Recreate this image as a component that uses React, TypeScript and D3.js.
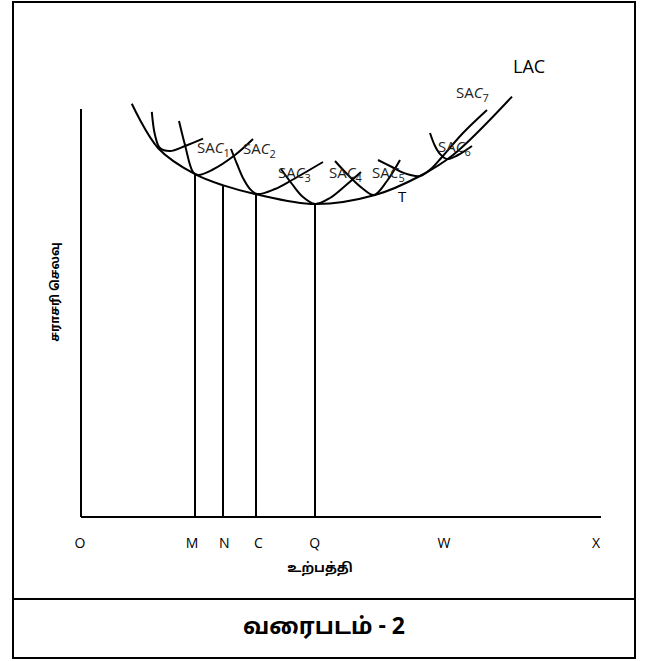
import React from 'react';
import * as d3 from 'd3';

// output (q) on x, cost (c) on y
const lacCurve: [number, number][] = [
  [12.7, 103.3], [19.3, 92.2], [28.5, 85.7], [35.6, 82.9], [43.75, 80.7],
  [58.5, 78.25], [73.5, 80.5], [84.75, 85.25], [93, 90.5], [107.75, 105.1],
];
const sac1: [number, number][] = [[17.7, 101.3], [18.5, 95.5], [19.75, 92.25], [22.25, 91.5], [26, 92.75], [30.5, 94.6]];
const sac2: [number, number][] = [[24.5, 99], [26, 93], [28, 86.25], [29.25, 85.5], [32.75, 86.75], [38.5, 90.5], [43, 94.5]];
const sac3: [number, number][] = [[37.5, 92], [39, 88.25], [40.5, 84.75], [42.25, 82], [44, 80.75], [48.5, 82], [52.75, 84.25], [60.5, 88.75]];
const sac4: [number, number][] = [[50, 87], [52.75, 83.25], [55.5, 80], [58.5, 78.25], [62.25, 79.75], [66, 82.75], [70, 86.25]];
const sac5: [number, number][] = [[63.5, 89], [66.75, 85.5], [70.25, 82.25], [73.25, 80.5], [76.5, 84], [79.75, 89.25]];
const sac7: [number, number][] = [[74.25, 89.25], [77.75, 87.5], [81, 85.9], [84.75, 85.25], [87.75, 87.25], [90.25, 90], [95.5, 96], [101.5, 101.75]];
const sac6: [number, number][] = [[87.25, 96], [88.5, 92.75], [89.75, 90.75], [91.5, 89.5], [94.25, 90.5], [97.75, 92.75]];
const sacCurves = [sac1, sac2, sac3, sac4, sac5, sac6, sac7];

// curve labels: [sub, q, c]
const sacLabels: [string, number, number][] = [
  ['1', 29, 91], ['2', 40.5, 90.75], ['3', 49.25, 84.75], ['4', 62, 84.75],
  ['5', 72.75, 84.75], ['6', 89.25, 91.25], ['7', 93.75, 104.75],
];

// vertical drops from LAC to the axis
const dropQ = [28.5, 35.5, 43.75, 58.5];
const dropC = [85.7, 83, 80.7, 78.25];

const tickNames = ['O', 'M', 'N', 'C', 'Q', 'W', 'X'];
const tickQ = [-0.25, 27.75, 35.8, 44.35, 58.4, 90.75, 128.75];

const W = 652;
const H = 661;

export default function App() {
  const x = d3.scaleLinear().domain([0, 130]).range([81, 601]);
  const y = d3.scaleLinear().domain([0, 102]).range([517, 109]);

  const line = d3.line<[number, number]>()
    .x(d => x(d[0]))
    .y(d => y(d[1]))
    .curve(d3.curveCatmullRom.alpha(0.5));

  const latin = '"Open Sans", "Liberation Sans", sans-serif';
  const tamil = '"Noto Sans Tamil", "Lohit Tamil", "Latha", sans-serif';

  return (
    <svg width={W} height={H} viewBox={`0 0 ${W} ${H}`}
      style={{ position: 'absolute', left: 0, top: 0, background: '#fff' }}>
      {/* frame */}
      <rect x={13} y={2} width={622} height={656} fill="#fff" stroke="#000" strokeWidth={2} />
      <line x1={13} x2={635} y1={599} y2={599} stroke="#000" strokeWidth={2} />

      {/* axes */}
      <line x1={x(0)} x2={x(0)} y1={y(102)} y2={y(0)} stroke="#000" strokeWidth={2} />
      <line x1={x(0)} x2={x(130)} y1={y(0)} y2={y(0)} stroke="#000" strokeWidth={2} />

      {/* drops */}
      {dropQ.map((q, i) => (
        <line key={i} x1={x(q)} x2={x(q)} y1={y(dropC[i])} y2={y(0)} stroke="#000" strokeWidth={2} />
      ))}

      {/* curves */}
      <path d={line(lacCurve) ?? ''} fill="none" stroke="#000" strokeWidth={2} />
      {sacCurves.map((c, i) => (
        <path key={i} d={line(c) ?? ''} fill="none" stroke="#000" strokeWidth={2} />
      ))}

      {/* labels */}
      {sacLabels.map(([s, q, c]) => (
        <text key={s} x={x(q)} y={y(c)} fontFamily={latin} fontSize={15} fill="#222">
          SA<tspan fontStyle="italic">C</tspan>
          <tspan fontSize={11} dy={4}>{s}</tspan>
        </text>
      ))}
      <text x={x(79.25)} y={y(78.75)} fontFamily={latin} fontSize={15} fill="#000">T</text>
      <text x={x(108)} y={y(111)} fontFamily={latin} fontSize={18} fill="#000">LAC</text>

      {tickNames.map((t, i) => (
        <text key={t} x={x(tickQ[i])} y={548} textAnchor="middle" fontFamily={latin} fontSize={14} fill="#000">{t}</text>
      ))}
      <text x={320} y={572} textAnchor="middle" fontFamily={tamil} fontWeight="bold" fontSize={13} fill="#000">உற்பத்தி</text>
      <text transform="translate(59,292) rotate(-90)" textAnchor="middle" fontFamily={tamil} fontWeight="bold" fontSize={12} fill="#000">சராசரி செலவு</text>

      <text x={324} y={634} textAnchor="middle" fontFamily={tamil} fontWeight="bold" fontSize={23}
        textLength={162} lengthAdjust="spacingAndGlyphs" fill="#000">வரைபடம் - 2</text>
    </svg>
  );
}
